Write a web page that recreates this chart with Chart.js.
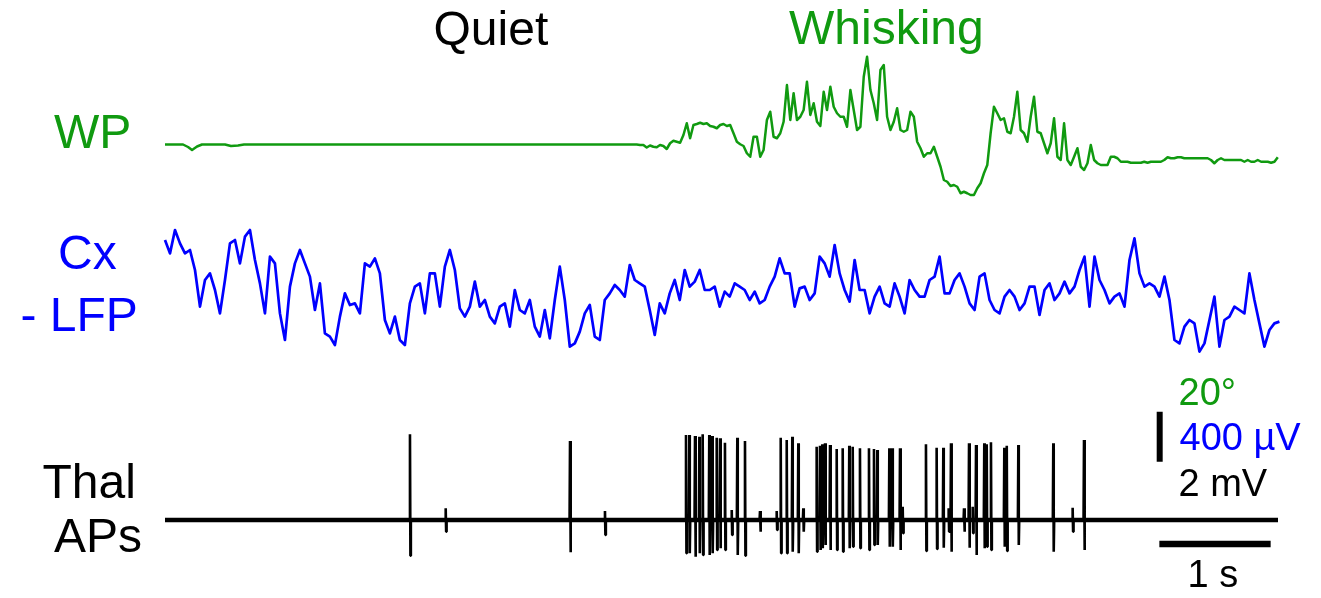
<!DOCTYPE html>
<html>
<head>
<meta charset="utf-8">
<style>
html,body{margin:0;padding:0;background:#fff;overflow:hidden}
#wrap{position:relative;width:1321px;height:598px}
canvas{position:absolute;left:0;top:0}
.lbl{position:absolute;font-family:"Liberation Sans",Arial,sans-serif;font-size:48px;line-height:48px;white-space:nowrap;margin:0}
.sc{font-size:38px;line-height:38px}
.g{color:#109a10}.b{color:#0000ff}.k{color:#000}
</style>
<script src="https://cdn.jsdelivr.net/npm/chart.js@4/dist/chart.umd.min.js"></script>
</head>
<body>
<div id="wrap">
<canvas id="c" width="1321" height="598"></canvas>
<div class="lbl k" style="left:433.5px;top:5.2px">Quiet</div>
<div class="lbl g" style="left:789px;top:4.1px">Whisking</div>
<div class="lbl g" style="left:54px;top:107.9px">WP</div>
<div class="lbl b" style="left:58px;top:228.9px">Cx</div>
<div class="lbl b" style="left:20.5px;top:291.3px">- LFP</div>
<div class="lbl k" style="left:42.5px;top:458.1px">Thal</div>
<div class="lbl k" style="left:54px;top:512.4px">APs</div>
<div class="lbl sc g" style="left:1178.5px;top:372.8px">20°</div>
<div class="lbl sc b" style="left:1179.5px;top:417.8px">400 µV</div>
<div class="lbl sc k" style="left:1178.5px;top:463.8px">2 mV</div>
<div class="lbl sc k" style="left:1187.5px;top:554.5px">1 s</div>
</div>
<script>
// ---------------- DATA ----------------
// Whisker position (degrees), quiet period: sparse points (time s, deg)
const wpQuietTimes = [0, 0.162, 0.207, 0.243, 0.288, 0.332, 0.539, 0.593, 0.656, 0.710, 4.238];
const wpQuietDeg   = [0, 0, -1.0, -2.2, -0.8, 0, 0, -0.6, -0.4, 0, 0];
// Whisker position during/after whisking, sampled every wpDt seconds from wpWhiskStart
const wpWhiskStart = 4.268;
const wpDt = 0.03;
const wpWhiskDeg = [
-0.2,-0.2,-1.2,-0.4,-0.9,-1.1,-0.2,-0.6,-1.8,0.5,
1.5,1.1,0.7,3.8,8.5,2.5,7.8,8.2,8.7,8.2,
8.5,7.4,7.1,6.5,7.8,8.2,7.4,7.8,4.5,1.1,
0.1,-0.6,-3.5,-4.9,3.1,3.1,-4.9,-2.2,9.8,13.1,
3.1,2.5,4.5,9.1,23.8,9.8,20.5,9.8,11.1,13.8,
25.1,11.8,16.5,9.1,7.4,21.1,13.8,23.1,15.1,12.5,
11.1,11.1,7.1,21.8,13.8,5.8,7.1,27.1,35.1,21.8,
16.5,9.8,29.8,31.8,11.1,5.8,9.1,14.5,5.8,5.1,
5.8,13.1,11.1,1.1,-1.5,-4.9,-3.5,-3.5,
-0.9,-4.9,-8.9,-14.2,-14.9,-16.6,-16.2,-16.9,-19.5,-18.9,
-19.5,-20.2,-20.2,-17.5,-15.5,-11.5,-8.2,4.5,15.1,12.5,
9.8,10.5,5.1,4.5,11.1,21.1,5.8,4.5,1.1,11.1,
19.1,5.1,4.5,0.5,-3.5,0.5,10.5,-4.9,-6.2,8.5,
-6.2,-8.2,-4.9,-1.5,-8.9,-10.2,-7.5,-0.2,-6.2,-7.5,
-8.2,-8.2,-8.2,-4.9,-4.9,-5.5,-6.9,-6.9,-6.9,-7.3,
-7.3,-7.3,-7.3,-6.9,-7.3,-6.9,-6.9,-6.9,-6.9,-6.2,
-5.1,-5.5,-5.5,-5.1,-5.1,-5.5,-5.5,-5.5,-5.5,-5.5,
-5.5,-5.5,-5.5,-6.2,-7.5,-6.2,-5.5,-6.2,-6.2,-6.2,
-6.2,-6.2,-6.2,-6.9,-6.2,-6.9,-6.9,-6.2,-6.9,-6.9,
-6.9,-7.3,-6.9,-5.1
];

// Cortical LFP (inverted, µV), sampled every lfpDt seconds from t = 0
const lfpDt = 0.0449;
const lfpMicroV = [
400,293,480,373,293,320,160,-133,80,133,0,-187,80,373,400,213,427,480,240,53,
-187,267,213,-187,-400,27,213,320,213,107,-160,53,-347,-373,-440,-213,-27,-120,-107,-187,
213,187,253,133,-240,-347,-213,-400,-440,-107,27,53,-187,133,133,-133,187,320,
160,-147,-213,-133,67,-133,-80,-213,-267,-133,-107,-293,0,-160,-187,-80,-293,-373,-160,-387,
-80,187,-80,-453,-427,-333,-187,-120,-373,-400,-80,-27,40,0,-53,200,80,53,27,-160,
-360,-107,-187,-27,80,-80,160,27,67,160,0,0,27,-133,-13,
-53,53,27,0,-80,-13,-107,-80,27,107,253,133,133,-133,13,27,-80,-27,267,213,
107,360,133,0,-93,240,0,0,-187,-53,27,-107,-133,53,-53,-187,80,0,-53,-53,
80,107,267,-27,-27,80,133,27,-107,-160,107,133,-80,-160,-187,-53,
0,-53,-160,-107,27,27,-200,0,53,-80,-27,67,-27,27,160,267,-133,267,80,0,
-107,-53,-27,-133,240,413,133,27,53,27,-53,107,-80,-400,-427,-293,-240,-267,-493,-427,
-240,-53,-453,-240,-213,-133,-160,-187,133,-80,-267,-453,-320,-267,-253
];

// Thalamic action potentials: spike times (s), peak and trough (mV)
const spikeTimes = [2.201,2.522,3.639,3.953,4.681,4.711,4.762,4.801,4.831,4.890,4.917,4.957,4.987,5.031,5.092,5.142,5.211,5.346,5.496,5.532,5.586,5.636,5.690,5.735,5.855,5.885,5.906,5.930,5.975,6.035,6.089,6.148,6.179,6.244,6.325,6.370,6.400,6.508,6.535,6.604,6.628,6.837,6.933,6.993,7.041,7.062,7.179,7.224,7.257,7.287,7.361,7.383,7.421,7.541,7.563,7.667,7.981,8.155,8.257];
const spikePeakMV = [3.43,0.47,3.16,0.36,3.40,3.40,3.36,3.33,3.43,3.40,3.36,3.29,3.27,3.09,0.40,3.29,3.16,0.36,0.36,3.29,3.20,3.33,3.07,0.47,2.93,2.97,3.03,3.07,3.00,2.84,2.87,2.97,2.93,2.87,2.87,2.84,2.80,2.87,2.87,2.87,0.53,3.03,2.89,2.89,0.47,3.07,0.47,3.07,0.53,3.00,3.07,3.03,3.11,2.89,2.97,3.00,3.07,0.49,3.20];
const spikeTroughMV = [-1.43,-0.47,-1.29,-0.60,-1.33,-1.33,-1.47,-1.33,-1.40,-1.40,-1.33,-1.20,-1.13,-1.20,-0.60,-1.40,-1.43,-0.47,-0.40,-1.33,-1.33,-1.27,-1.33,-0.47,-1.27,-1.20,-1.13,-1.00,-1.20,-1.20,-1.27,-1.13,-1.07,-1.13,-1.20,-1.00,-1.00,-1.07,-1.07,-1.20,-0.53,-1.24,-1.16,-1.11,-0.47,-1.27,-0.47,-1.11,-0.53,-1.40,-1.13,-1.07,-1.20,-1.07,-1.24,-1.00,-1.27,-0.47,-1.20];
const apEndTime = 10.0;

// ---------------- LAYOUT / STYLE ----------------
const W = 1321, H = 598;
const X0 = 165, PX_PER_S = 111.3, X_MAX = 10.3;
const GREEN = '#109a10', BLUE = '#0000ff', BLACK = '#000000';

function yRange(zeroPx, unitsPerPx) {
  return { min: (zeroPx - H) * unitsPerPx, max: zeroPx * unitsPerPx };
}
const wpR = yRange(144.5, 0.4);   // 20 deg = 50 px
const lfpR = yRange(290, 8);      // 400 µV = 50 px
const apR = yRange(520, 0.04);    // 2 mV = 50 px

const wpPts = wpQuietTimes.map((t, i) => ({ x: t, y: wpQuietDeg[i] }))
  .concat(wpWhiskDeg.map((v, i) => ({ x: wpWhiskStart + i * wpDt, y: v })));
const lfpPts = lfpMicroV.map((v, i) => ({ x: i * lfpDt, y: v }));
const apPts = [{ x: 0, y: 0 }];
spikeTimes.forEach((t, i) => {
  apPts.push({ x: t - 0.004, y: 0 }, { x: t, y: spikePeakMV[i] },
             { x: t + 0.004, y: spikeTroughMV[i] }, { x: t + 0.008, y: 0 });
});
apPts.push({ x: apEndTime, y: 0 });

// scale bars: 1 s horizontal, 2 mV (=400 µV =20°) vertical
const barT = 8.937;
const vBar = [{ x: barT, y: 2.33 }, { x: barT, y: 4.33 }];
const hBar = [{ x: 8.934, y: -0.96 }, { x: 9.934, y: -0.96 }];

const common = { pointRadius: 0, tension: 0, fill: false, clip: false, borderJoinStyle: 'round' };

new Chart(document.getElementById('c'), {
  type: 'line',
  data: {
    datasets: [
      Object.assign({ data: wpPts, borderColor: GREEN, borderWidth: 2.5, yAxisID: 'yWP' }, common),
      Object.assign({ data: lfpPts, borderColor: BLUE, borderWidth: 2.7, yAxisID: 'yLFP' }, common),
      Object.assign({ data: [{ x: 0, y: 0 }, { x: apEndTime, y: 0 }], borderColor: BLACK, borderWidth: 4.5, yAxisID: 'yAP' }, common),
      Object.assign({}, common, { data: apPts, borderColor: BLACK, borderWidth: 2.6, yAxisID: 'yAP', borderJoinStyle: 'bevel' }),
      Object.assign({}, common, { data: vBar, borderColor: BLACK, borderWidth: 6, yAxisID: 'yAP', borderCapStyle: 'butt' }),
      Object.assign({}, common, { data: hBar, borderColor: BLACK, borderWidth: 6.5, yAxisID: 'yAP', borderCapStyle: 'butt' })
    ]
  },
  options: {
    responsive: false,
    animation: false,
    devicePixelRatio: 1,
    events: [],
    layout: { padding: { left: X0, right: W - X0 - X_MAX * PX_PER_S, top: 0, bottom: 0 } },
    plugins: { legend: { display: false }, tooltip: { enabled: false }, title: { display: false } },
    scales: {
      x: { type: 'linear', min: 0, max: X_MAX, display: false },
      yWP: { type: 'linear', min: wpR.min, max: wpR.max, display: false },
      yLFP: { type: 'linear', min: lfpR.min, max: lfpR.max, display: false },
      yAP: { type: 'linear', min: apR.min, max: apR.max, display: false }
    }
  }
});
</script>
</body>
</html>
